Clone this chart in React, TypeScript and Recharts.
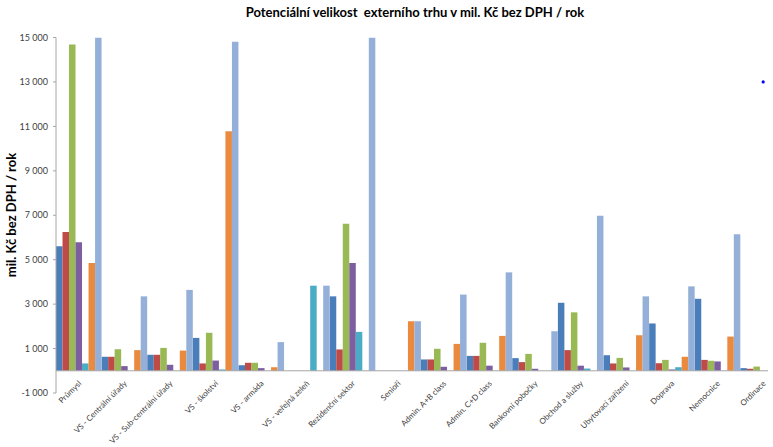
import React from "react";
import { ComposedChart, Bar, Line, XAxis, YAxis, ReferenceLine } from "recharts";

const categories = [
  "Průmysl",
  "VS - Centrální úřady",
  "VS - Sub-centrální úřady",
  "VS - školství",
  "VS - armáda",
  "VS - veřejná zeleň",
  "Rezidenční sektor",
  "Senioři",
  "Admin. A+B class",
  "Admin. C+D class",
  "Bankovní pobočky",
  "Obchod a služby",
  "Ubytovací zařízení",
  "Doprava",
  "Nemocnice",
  "Ordinace",
];

const s1 = [5600, 630, 720, 1480, 250, 0, 3350, 0, 510, 670, 570, 3060, 700, 2130, 3240, 120];
const s2 = [6250, 630, 720, 330, 360, 0, 960, 0, 510, 670, 390, 930, 330, 340, 490, 90];
const s3 = [14680, 970, 1030, 1710, 360, 0, 6620, 0, 990, 1260, 760, 2630, 580, 490, 450, 190];
const s4 = [5780, 210, 270, 460, 120, 0, 4850, 0, 180, 230, 90, 230, 150, 60, 420, 0];
const s5 = [330, 0, 0, 60, 0, 3830, 1750, 0, 0, 0, 0, 100, 0, 160, 0, 0];
const s6 = [4850, 930, 910, 10780, 160, 0, 0, 2230, 1210, 1570, 0, 0, 1600, 630, 1540, null];
const s7 = [15000, 3350, 3640, 14810, 1290, 3830, 15000, 2230, 3430, 4430, 1780, 6980, 3350, 3800, 6140, null];
const markerValues = [null, null, null, null, null, null, null, null, null, null, null, null, null, null, null, 13000];

const yTicks = [-1000, 1000, 3000, 5000, 7000, 9000, 11000, 13000, 15000];

const seriesKeys = ["s1", "s2", "s3", "s4", "s5", "s6", "s7"];
const seriesColors = ["#4A7EBB", "#BE4B48", "#98B954", "#7D5FA0", "#4AACC5", "#E98A3E", "#95B0D8"];
const seriesValues = [s1, s2, s3, s4, s5, s6, s7];

const data = categories.map((name, i) => {
  const row: any = { name, marker: markerValues[i] };
  seriesKeys.forEach((k, j) => {
    row[k] = seriesValues[j][i];
  });
  return row;
});

const FONT = "Lato, 'Liberation Sans', sans-serif";

const fmt = (v: number) => {
  const neg = v < 0;
  const a = Math.abs(v);
  const s = a >= 1000 ? `${Math.floor(a / 1000)} ${String(a % 1000).padStart(3, "0")}` : String(a);
  return neg ? `-${s}` : s;
};

const XTick = (props: any) => {
  const { x, y, payload } = props;
  return (
    <g transform={`translate(${x + 1},${y - 11})`}>
      <text
        transform="rotate(-45)"
        textAnchor="end"
        dy="0.35em"
        fontSize={8}
        fontFamily={FONT}
        fill="#404040"
      >
        {payload.value}
      </text>
    </g>
  );
};

export default function App() {
  return (
    <div
      style={{
        position: "absolute",
        left: 0,
        top: 0,
        width: 773,
        height: 447,
        background: "#fff",
        overflow: "hidden",
      }}
    >
      <div style={{ position: "absolute", left: 0, top: 0, width: 768, height: 447, overflow: "hidden" }}>
        <ComposedChart
          width={800}
          height={447}
          data={data}
          margin={{ top: 37.5, right: 14, bottom: 0, left: 0 }}
          barCategoryGap={0}
          barGap={0}
        >
          <XAxis
            dataKey="name"
            interval={0}
            height={54}
            axisLine={false}
            tickLine={false}
            tickSize={0}
            tickMargin={0}
            tick={<XTick />}
          />
          <YAxis
            width={56}
            domain={[-1000, 15000]}
            ticks={yTicks}
            allowDataOverflow
            tickFormatter={fmt}
            axisLine={{ stroke: "#A6A6A6" }}
            tickLine={{ stroke: "#A6A6A6" }}
            tickSize={3}
            tickMargin={5}
            tick={{ fontSize: 9, fontFamily: FONT, fill: "#404040" }}
          />
          {seriesKeys.map((k, j) => (
            <Bar
              key={k}
              dataKey={k}
              fill={seriesColors[j]}
              barSize={6.51}
              isAnimationActive={false}
            />
          ))}
          <ReferenceLine y={0} stroke="#A6A6A6" strokeWidth={1} />
          <Line
            dataKey="marker"
            stroke="none"
            dot={{ r: 1.6, fill: "#0000FF", stroke: "none" }}
            activeDot={false}
            isAnimationActive={false}
            legendType="none"
          />
        </ComposedChart>
        <div
          style={{
            position: "absolute",
            left: 165,
            top: 4,
            width: 500,
            textAlign: "center",
            fontFamily: FONT,
            fontWeight: 700,
            fontSize: 13,
            lineHeight: "16px",
            color: "#000",
            whiteSpace: "pre",
          }}
        >
          {"Potenciální velikost  externího trhu v mil. Kč bez DPH / rok"}
        </div>
        <div
          style={{
            position: "absolute",
            left: 11 - 100,
            top: 215 - 9,
            width: 200,
            height: 18,
            lineHeight: "18px",
            textAlign: "center",
            transform: "rotate(-90deg)",
            fontFamily: FONT,
            fontWeight: 700,
            fontSize: 13,
            color: "#000",
            whiteSpace: "nowrap",
          }}
        >
          mil. Kč bez DPH / rok
        </div>
      </div>
    </div>
  );
}
